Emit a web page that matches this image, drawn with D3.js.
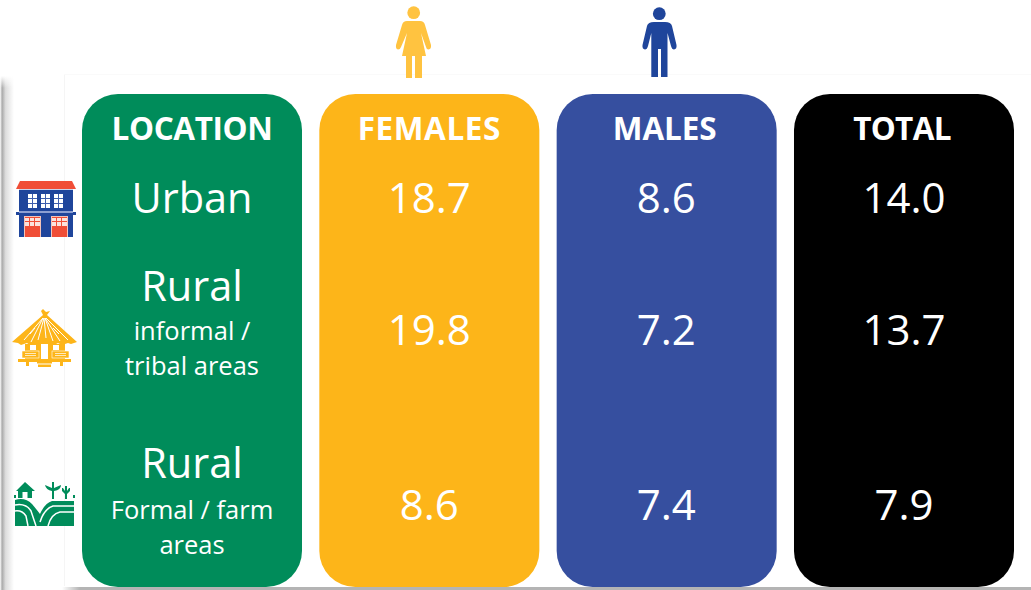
<!DOCTYPE html>
<html><head><meta charset="utf-8">
<script src="https://cdn.jsdelivr.net/npm/d3@7/dist/d3.min.js"></script>
<style>html,body{margin:0;padding:0;background:#fff;overflow:hidden}svg{display:block}text{font-family:"Open Sans",sans-serif;fill:#fff;text-anchor:middle}</style>
</head><body><svg id="c" width="1031" height="590"></svg>
<script>
const columns=["LOCATION","FEMALES","MALES","TOTAL"];
const columnColors=["#008C5A","#FDB519","#364F9F","#000000"];
const rows=["Urban","RuralInformal","RuralFormal"];
const females=[18.7,19.8,8.6];
const males=[8.6,7.2,7.4];
const total=[14.0,13.7,7.9];
const locationLines=[["Urban",null,null],["Rural","informal /","tribal areas"],["Rural","Formal / farm","areas"]];

const svg=d3.select("#c");
const x=d3.scaleBand().domain(columns).range([82,1014]).paddingInner(0.073);
const headerShift=d3.scaleOrdinal().domain(columns).range([0,0,-2,-2]);
const headerSpacing=d3.scaleOrdinal().domain(columns).range([-0.4,0.6,-0.1,-0.7]);
const y=d3.scaleOrdinal().domain(rows).range([198,330,505]);
const mainY=d3.scaleOrdinal().domain(rows).range([198,286,463]);
const subY=d3.scaleOrdinal().domain(rows).range([0,331,510]);
const sub2Y=d3.scaleOrdinal().domain(rows).range([0,366,545]);

const defs=svg.append("defs");
const gl=defs.append("linearGradient").attr("id","sl").attr("x1",0).attr("x2",1).attr("y1",0).attr("y2",0);
gl.append("stop").attr("offset","0").attr("stop-color","#fff");
gl.append("stop").attr("offset","0.15").attr("stop-color","#aaa");
gl.append("stop").attr("offset","0.4").attr("stop-color","#ddd");
gl.append("stop").attr("offset","1").attr("stop-color","#fff");
const gt=defs.append("linearGradient").attr("id","st").attr("x1",0).attr("x2",0).attr("y1",0).attr("y2",1);
gt.append("stop").attr("offset","0").attr("stop-color","#fff").attr("stop-opacity",1);
gt.append("stop").attr("offset","1").attr("stop-color","#fff").attr("stop-opacity",0);
const gb=defs.append("linearGradient").attr("id","sb").attr("x1",0).attr("x2",1).attr("y1",0).attr("y2",0);
gb.append("stop").attr("offset","0").attr("stop-color","#b4b4b4").attr("stop-opacity",0);
gb.append("stop").attr("offset","1").attr("stop-color","#b4b4b4").attr("stop-opacity",1);

// slide shadow and faint frame
svg.append("rect").attr("x",0).attr("y",76).attr("width",14).attr("height",514).attr("fill","url(#sl)");
svg.append("rect").attr("x",0).attr("y",76).attr("width",14).attr("height",12).attr("fill","url(#st)");
svg.append("rect").attr("x",80).attr("y",587).attr("width",967).attr("height",3).attr("fill","#b4b4b4");
svg.append("rect").attr("x",62).attr("y",587).attr("width",18).attr("height",3).attr("fill","url(#sb)");
svg.append("line").attr("x1",64.500).attr("x2",64.500).attr("y1",75).attr("y2",586).attr("stroke","#f5f5f5");
svg.append("line").attr("x1",64).attr("x2",1031).attr("y1",74.500).attr("y2",74.500).attr("stroke","#fafafa");

// column panels
svg.selectAll("rect.col").data(columns).join("rect").attr("class","col")
  .attr("x",d=>x(d)).attr("y",94).attr("width",x.bandwidth()).attr("height",493)
  .attr("rx",36).attr("ry",36).attr("fill",(d,i)=>columnColors[i]);

// headers
svg.selectAll("text.hd").data(columns).join("text").attr("class","hd")
  .attr("x",d=>x(d)+x.bandwidth()/2+headerShift(d)).attr("y",139.500).attr("font-size",31.500).attr("font-weight",700).attr("letter-spacing",d=>headerSpacing(d)).text(d=>d);

// values
const fmt=d3.format(".1f");
[["FEMALES",females],["MALES",males],["TOTAL",total]].forEach(([c,vals])=>{
  svg.selectAll("text.v"+c).data(vals).join("text").attr("class","v"+c)
    .attr("x",x(c)+x.bandwidth()/2+(c==="TOTAL"?0:0)-(c==="MALES"?0.500:0)).attr("y",(d,i)=>y(rows[i])+14.500)
    .attr("font-size",42).text(d=>fmt(d));
});

// location labels
const lx=x("LOCATION")+x.bandwidth()/2;
locationLines.forEach((l,i)=>{
  svg.append("text").attr("x",lx).attr("y",mainY(rows[i])+15).attr("font-size",41.500).text(l[0]);
  if(l[1])svg.append("text").attr("x",lx).attr("y",subY(rows[i])+8.500).attr("font-size",25.500).text(l[1]);
  if(l[2])svg.append("text").attr("x",lx).attr("y",sub2Y(rows[i])+8.500).attr("font-size",25.500).text(l[2]);
});

// pictograms
const woman=svg.append("g").attr("fill","#FFC340");
woman.append("circle").attr("cx",413.700).attr("cy",12.700).attr("r",6.400);
woman.append("path").attr("d","M407 21H420Q424 21 425 25L431 45Q431.500 49 428.500 49.500Q426.500 49.500 426 47L421 33L426 56H422V78H415V56H412V78H406V56H402L407 33L401 47Q400 49.500 398 49.500Q395.500 49 396 45L402 25Q403 21 407 21Z");
const man=svg.append("g").attr("fill","#1F459B");
man.append("circle").attr("cx",659.300).attr("cy",13.700).attr("r",6.400);
man.append("path").attr("d","M654 22H665Q671 22 672 26L676.500 45Q677 49 674 49.500Q672 49.500 671 46L667.500 33V77H661V49H658V77H651.300V33L648 46Q647 49.500 645 49.500Q642 49 642.500 45L647 26Q648 22 654 22Z");

// urban building
const h=svg.append("g");
h.append("rect").attr("x",19).attr("y",189).attr("width",54).attr("height",48).attr("fill","#1F459B");
h.append("path").attr("d","M20 181H72L76 189H16Z").attr("fill","#F04E37");
h.append("rect").attr("x",19).attr("y",189).attr("width",54).attr("height",1).attr("fill","#C9D3EA");
h.append("rect").attr("x",16).attr("y",212).attr("width",60).attr("height",3).attr("fill","#1F459B");
h.append("rect").attr("x",19).attr("y",211).attr("width",54).attr("height",2).attr("fill","#8C9FD2");
[28,41,54].forEach(wx=>{
  h.append("rect").attr("x",wx).attr("y",194).attr("width",9).attr("height",14).attr("fill","#fff");
  h.append("path").attr("d",`M${wx} 198.500H${wx+9}M${wx} 203.500H${wx+9}M${wx+4.500} 194V208`).attr("stroke","#3F5FAE").attr("stroke-width",1);
});
[24,51].forEach(dx=>{
  h.append("rect").attr("x",dx).attr("y",216).attr("width",17).attr("height",21).attr("fill","#F3C3B8");
  h.append("rect").attr("x",dx+1).attr("y",217).attr("width",15).attr("height",20).attr("fill","#F04E37");
  h.append("rect").attr("x",dx+1).attr("y",218).attr("width",15).attr("height",8).attr("fill","#FBE3DD");
  h.append("path").attr("d",`M${dx+5.500} 218V226M${dx+10.500} 218V226M${dx+1} 221.500H${dx+16}`).attr("stroke","#F04E37").attr("stroke-width",1);
});

// hut
const t=svg.append("g").attr("fill","#FDB519");
t.append("path").attr("d","M43 309L46 312L50 311L47 315L77 342L71 344L68 343L62 345L58 343L52 346L47 344L42 346L37 344L31 346L27 343L21 345L18 343L12 342L43 315L41 311Z");
const tl=t.append("g").attr("stroke","#fff").attr("stroke-width",1).attr("fill","none");
[[43,318,24,340],[43,318,31,342],[44,318,38,340],[44,318,46,338],[45,318,53,341],[45,318,60,341],[46,318,68,340],[35,328,30,334],[53,328,59,334]].forEach(s=>tl.append("line").attr("x1",s[0]).attr("y1",s[1]).attr("x2",s[2]).attr("y2",s[3]));
t.append("rect").attr("x",25).attr("y",344).attr("width",40).attr("height",15);
t.append("rect").attr("x",41).attr("y",344).attr("width",7).attr("height",15).attr("fill","#fff");
t.append("rect").attr("x",30).attr("y",345).attr("width",6).attr("height",5).attr("fill","#fff");
t.append("rect").attr("x",53).attr("y",345).attr("width",6).attr("height",5).attr("fill","#fff");
[[22,17],[52,17]].forEach(b=>{
  t.append("rect").attr("x",b[0]).attr("y",351).attr("width",b[1]).attr("height",7).attr("stroke","#fff").attr("stroke-width",.6);
  t.append("path").attr("d",`M${b[0]+3} 353.500H${b[0]+b[1]-3}M${b[0]+3} 355.500H${b[0]+b[1]-3}`).attr("stroke","#fff").attr("stroke-width",.7);
});
t.append("rect").attr("x",18).attr("y",359).attr("width",53).attr("height",3);
t.append("path").attr("d","M26 362h3v4h-3zM60 362h3v4h-3z");
t.append("rect").attr("x",37).attr("y",361).attr("width",15).attr("height",2.500);
t.append("rect").attr("x",38).attr("y",364.500).attr("width",13).attr("height",2.500);

// farm
const f=svg.append("g").attr("fill","#008C5A");
f.append("path").attr("d","M15 500Q25 497 32 504Q37 510 40 514Q45 503 52 501H74V526H15Z");
f.append("path").attr("d","M15 505Q26 503 31 511L36 526M15 511Q22 510 26 516L28 526M40 522Q44 509 53 506H74M48 526Q51 514 60 512H74").attr("fill","none").attr("stroke","#fff").attr("stroke-width",1.500);
f.append("path").attr("d","M25 482L35 491H32V498H18V491H16Z");
f.append("rect").attr("x",22.500).attr("y",492).attr("width",5).attr("height",6).attr("fill","#fff");
f.append("rect").attr("x",14).attr("y",495).attr("width",2).attr("height",3);
f.append("rect").attr("x",73).attr("y",495).attr("width",2).attr("height",3);
f.append("path").attr("d","M52 482H54V488L61 485Q61 490 54 491V499H52V491Q46 490 45 485L52 488Z");
f.append("path").attr("d","M65 486H67V491L69 488H70V491L67 494V499H65V494L62 491V488H63L65 491Z");
</script></body></html>
